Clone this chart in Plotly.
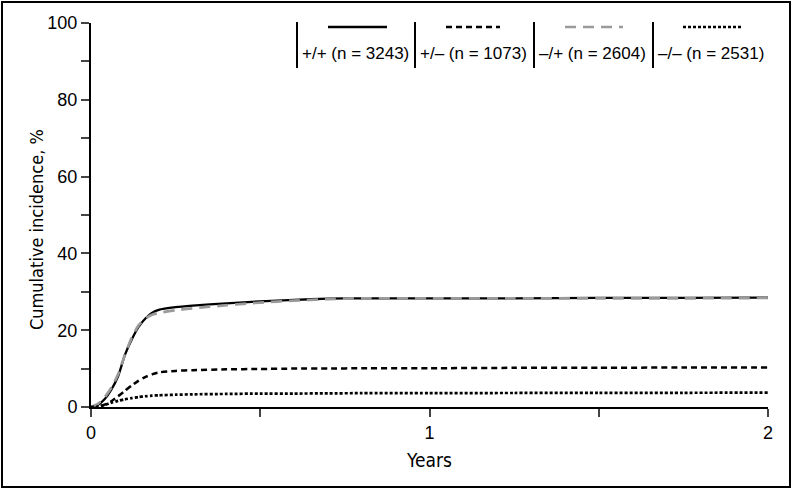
import plotly.graph_objects as go

# follow-up time in years
years = [0, 0.02, 0.04, 0.06, 0.08, 0.1, 0.12, 0.14, 0.16, 0.18, 0.2, 0.25,
         0.3, 0.4, 0.5, 0.6, 0.7, 0.8, 1.0, 1.25, 1.5, 1.75, 2.0]

# cumulative incidence, %
pos_pos = [0, 0.5, 2, 4.5, 8, 13.5, 17.5, 20.8, 23, 24.5, 25.3, 26, 26.4,
           27, 27.5, 27.9, 28.2, 28.3, 28.3, 28.3, 28.4, 28.4, 28.5]
pos_neg = [0, 0.1, 0.6, 1.5, 2.8, 4.2, 5.6, 6.8, 7.8, 8.5, 9.0, 9.4, 9.6,
           9.8, 9.9, 10.0, 10.0, 10.1, 10.1, 10.2, 10.2, 10.3, 10.3]
neg_pos = [0, 0.8, 2.5, 5, 8.5, 13.5, 18, 21.2, 23, 24, 24.5, 25.2, 25.7,
           26.5, 27.2, 27.7, 28.1, 28.3, 28.3, 28.3, 28.3, 28.3, 28.4]
neg_neg = [0, 0.1, 0.5, 1.1, 1.6, 2.0, 2.3, 2.6, 2.8, 2.95, 3.05, 3.2, 3.3,
           3.4, 3.5, 3.5, 3.55, 3.6, 3.6, 3.65, 3.7, 3.7, 3.75]

labels = ["+/+ (n = 3243)", "+/\u2013 (n = 1073)", "\u2013/+ (n = 2604)", "\u2013/\u2013 (n = 2531)"]
series = [pos_pos, pos_neg, neg_pos, neg_neg]
styles = [
    dict(color="black", width=2.3, dash="solid"),
    dict(color="black", width=2.5, dash="6px,4px"),
    dict(color="#9a9a9a", width=2.7, dash="11px,7px"),
    dict(color="black", width=2.7, dash="3px,2px"),
]

W, H = 794, 490
L, R, T, B = 91, 26, 23, 83
PW, PH = W - L - R, H - T - B

SANS = "Liberation Sans, Arial, sans-serif"
NARROW = "DejaVu Sans Condensed, Liberation Sans, sans-serif"


def px(x):
    return (x - L) / PW


def py(y):
    return (H - B - y) / PH


fig = go.Figure()
for name, vals, st in zip(labels, series, styles):
    fig.add_trace(go.Scatter(x=years, y=vals, mode="lines", name=name,
                             line=dict(shape="spline", smoothing=0.6, **st)))

shapes = []
annotations = []
# custom legend: divider bar, line sample above, label below
bar_x = [297, 415, 534, 653]
sample_x = [(328, 387), (446, 500), (565, 623), (683, 743)]
for i, name in enumerate(labels):
    shapes.append(dict(type="line", xref="paper", yref="paper",
                       x0=px(bar_x[i]), x1=px(bar_x[i]), y0=py(22), y1=py(68),
                       line=dict(color="black", width=2)))
    shapes.append(dict(type="line", xref="paper", yref="paper",
                       x0=px(sample_x[i][0]), x1=px(sample_x[i][1]), y0=py(27), y1=py(27),
                       line=styles[i]))
    annotations.append(dict(text=name, xref="paper", yref="paper",
                            x=px(bar_x[i] + 3), y=py(53), xanchor="left", yanchor="middle",
                            showarrow=False,
                            font=dict(family=SANS, size=17, color="black")))

# y axis title placed by hand, close to the tick labels
annotations.append(dict(text="Cumulative incidence, %", xref="paper", yref="paper",
                        x=px(36), y=py(230), textangle=-90, showarrow=False,
                        xanchor="center", yanchor="middle",
                        font=dict(family=NARROW, size=18, color="black")))

# outer frame
shapes.append(dict(type="rect", xref="paper", yref="paper",
                   x0=px(2), x1=px(790), y0=py(487), y1=py(2),
                   line=dict(color="black", width=2)))

fig.update_layout(
    width=W, height=H,
    margin=dict(l=L, r=R, t=T, b=B),
    plot_bgcolor="white", paper_bgcolor="white",
    showlegend=False,
    shapes=shapes, annotations=annotations,
    font=dict(family=SANS, size=17, color="black"),
)
fig.update_xaxes(
    range=[0, 2], tickvals=[0, 0.5, 1, 1.5, 2], ticktext=["0", "", "1", "", "2"],
    ticks="outside", ticklen=8, tickwidth=2, showline=True, linewidth=2, linecolor="black",
    showgrid=False, zeroline=False, tickfont=dict(size=18),
    title=dict(text="Years", font=dict(family=NARROW, size=19), standoff=12),
)
fig.update_yaxes(
    range=[0, 100], tickvals=list(range(0, 101, 10)),
    ticktext=[str(v) if v % 20 == 0 else "" for v in range(0, 101, 10)],
    ticks="outside", ticklen=8, tickwidth=2, showline=True, linewidth=2, linecolor="black",
    showgrid=False, zeroline=False, tickfont=dict(size=18),
)

fig.write_html("out.html", config={"displayModeBar": False},
               post_script="document.body.style.margin='0';")
